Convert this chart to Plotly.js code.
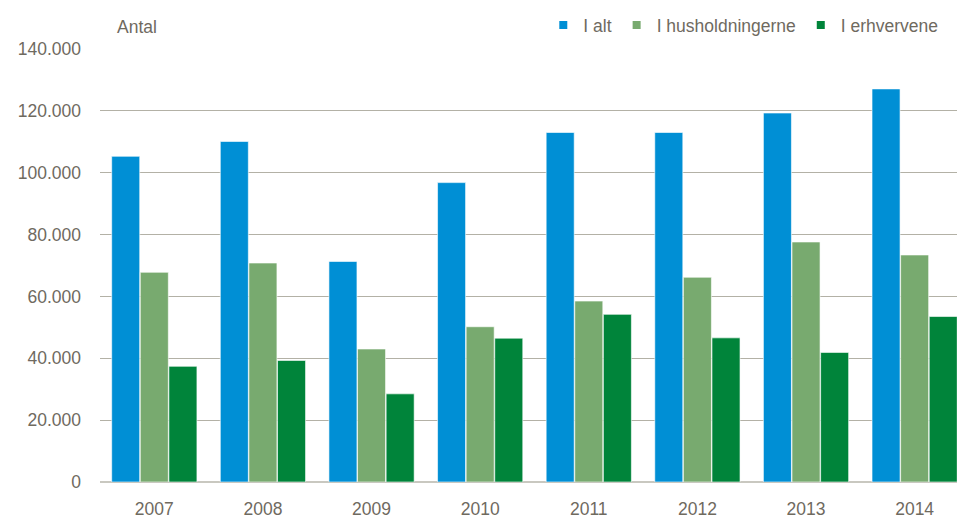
<!DOCTYPE html>
<html>
<head>
<meta charset="utf-8">
<script src="https://cdn.plot.ly/plotly-3.0.1.min.js"></script>
<style>html,body{margin:0;padding:0;background:#fff;}#chart{width:957px;height:518px;}</style>
</head>
<body>
<div id="chart"></div>
<script>
const years = ['2007','2008','2009','2010','2011','2012','2013','2014'];
const seriesNames = ['I alt','I husholdningerne','I erhvervene'];
const iAlt = [105300, 110100, 71300, 96800, 113000, 113000, 119300, 127100];
const iHusholdningerne = [67800, 70800, 43000, 50200, 58500, 66200, 77600, 73400];
const iErhvervene = [37400, 39300, 28500, 46500, 54200, 46600, 41900, 53500];
const yTicks = [0, 20000, 40000, 60000, 80000, 100000, 120000, 140000];
const yTickLabels = ['0','20.000','40.000','60.000','80.000','100.000','120.000','140.000'];

const colors = ['#008fd5', '#78aa6f', '#00843a'];
const values = [iAlt, iHusholdningerne, iErhvervene];
const textColor = '#6f6a5f';
const fam = '"Liberation Sans", Arial, sans-serif';
const fs = 17.5;

const bars = values.map((v, i) => ({
  type: 'bar',
  name: seriesNames[i],
  legendgroup: 'g' + i,
  showlegend: false,
  x: years,
  y: v,
  marker: {color: colors[i], line: {color: 'rgba(255,255,255,0.6)', width: 1}},
  hoverinfo: 'x+y+name'
}));
const legendItems = seriesNames.map((n, i) => ({
  type: 'scatter', mode: 'markers', name: n, legendgroup: 'g' + i,
  x: [null], y: [null],
  marker: {symbol: 'square', size: 8, color: colors[i]},
  showlegend: true, hoverinfo: 'skip'
}));

const layout = {
  width: 957, height: 518,
  margin: {l: 100, r: 0, t: 49, b: 35.5},
  paper_bgcolor: '#ffffff', plot_bgcolor: '#ffffff',
  font: {family: fam, size: fs, color: textColor},
  barmode: 'group',
  bargap: 0.21,
  bargroupgap: 0.02,
  showlegend: true,
  legend: {orientation: 'h', x: 0.984, xanchor: 'right', y: 1.055, yanchor: 'middle',
           font: {family: fam, size: fs, color: textColor}, bgcolor: 'rgba(0,0,0,0)',
           itemwidth: 30, traceorder: 'normal'},
  xaxis: {type: 'category', range: [-0.5, 7.39], showgrid: false, zeroline: false,
          showline: false, ticks: '', tickfont: {family: fam, size: fs, color: textColor},
          ticklabelstandoff: 14, fixedrange: true},
  yaxis: {range: [0, 140000], tickvals: yTicks, ticktext: yTickLabels,
          showgrid: true, gridcolor: '#b3b1a6', gridwidth: 1.2,
          zeroline: true, zerolinecolor: '#c9c8c0', zerolinewidth: 2.5,
          showline: false, ticks: '', ticklabelstandoff: 18,
          tickfont: {family: fam, size: fs, color: textColor}, fixedrange: true},
  annotations: [{text: 'Antal', xref: 'paper', yref: 'paper', x: 0.018, y: 1.05,
                 xanchor: 'left', yanchor: 'middle', showarrow: false,
                 font: {family: fam, size: fs, color: textColor}}]
};

Plotly.newPlot('chart', bars.concat(legendItems), layout, {displayModeBar: false, staticPlot: true});
</script>
</body>
</html>
